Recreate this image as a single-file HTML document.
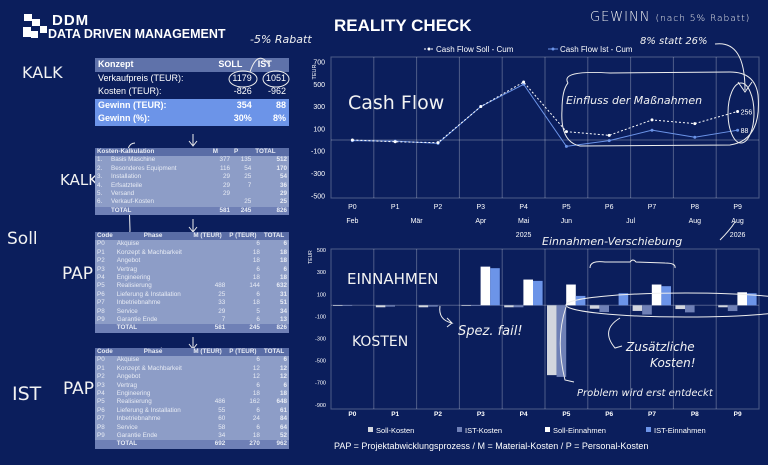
<!DOCTYPE html>
<html><head><meta charset="utf-8">
<style>
*{margin:0;padding:0;box-sizing:border-box}
body{width:768px;height:465px;background:#0b1e5c;overflow:hidden;font-family:"Liberation Sans",sans-serif;color:#fff;position:relative}
.abs{position:absolute}
.hand{font-family:"DejaVu Sans","Liberation Sans",sans-serif;color:#f2f2f2;font-weight:300}
table{border-collapse:collapse;position:absolute;left:95px;width:194px;font-size:6.3px;color:#e8ecf5}
td,th{padding:0 2px;height:8.4px;line-height:8.4px;white-space:nowrap}
.kt th{background:#5a6da6;font-weight:bold;text-align:left}
.kt td{background:#8d9dc7}
.kt tr.tot td{background:#6f80b6;font-weight:bold}
.r{text-align:right}.b{font-weight:bold}
.kalk{left:95px;top:58px;width:194px;font-size:9px;color:#fff}
.kalk td,.kalk th{height:13.5px;line-height:13.5px;padding:0 3px}
.kalk th{background:#5f72aa;text-align:left}
.kalk tr.g td{background:#6c94e8;font-weight:bold}
</style></head><body>

<svg class="abs" style="left:22px;top:13px" width="28" height="28">
<rect x="2" y="1" width="8" height="7" fill="#fff"/><rect x="10" y="6" width="8" height="7" fill="#fff"/><rect x="1" y="14" width="8" height="10" fill="#fff"/><rect x="9" y="18" width="7" height="7" fill="#fff"/><rect x="18" y="13" width="7" height="7" fill="#fff"/>
</svg>
<div class="abs" style="left:52px;top:12px;font-size:15px;font-weight:bold;letter-spacing:1px">DDM</div>
<div class="abs" style="left:48px;top:27px;font-size:12.5px;font-weight:bold">DATA DRIVEN MANAGEMENT</div>

<div class="abs hand" style="left:22px;top:63px;font-size:16px;font-weight:normal">KALK</div>
<div class="abs hand" style="left:250px;top:33px;font-size:11px;font-style:italic">-5% Rabatt</div>

<table class="kalk">
<tr><th>Konzept</th><th class="r">SOLL</th><th class="r">IST</th></tr>
<tr><td>Verkaufpreis (TEUR):</td><td class="r">1179</td><td class="r">1051</td></tr>
<tr><td>Kosten (TEUR):</td><td class="r">-826</td><td class="r">-962</td></tr>
<tr class="g"><td>Gewinn (TEUR):</td><td class="r">354</td><td class="r">88</td></tr>
<tr class="g"><td>Gewinn (%):</td><td class="r">30%</td><td class="r">8%</td></tr>
</table>
<svg class="abs" style="left:0;top:0" width="330" height="465">
<g fill="none" stroke="#eee" stroke-width="1">
<ellipse cx="243" cy="79" rx="14" ry="8"/><ellipse cx="276" cy="79" rx="13" ry="8"/>
<path d="M250 72 Q258 48 270 66"/>
<path d="M135 143 Q125 143 128 165 L130 230 Q130 238 124 240 Q130 242 130 250 L131 305 Q130 318 143 316"/>
<path d="M162 348 Q152 350 153 370 L153 385 Q153 392 148 394 Q153 396 153 405 L152 428 Q152 440 160 440"/>
<path d="M193 134 V145 M189 141 L193 146 L197 141"/>
<path d="M193 219 V231 M189 227 L193 232 L197 227"/>
<path d="M193 337 V348 M189 344 L193 349 L197 344"/>
</g></svg>
<div class="abs hand" style="left:60px;top:171px;font-size:15px;font-weight:normal">KALK</div>
<div class="abs hand" style="left:7px;top:229px;font-size:17px;font-weight:normal">Soll</div>
<div class="abs hand" style="left:62px;top:264px;font-size:17px;font-weight:normal">PAP</div>
<div class="abs hand" style="left:12px;top:383px;font-size:19px;font-weight:normal">IST</div>
<div class="abs hand" style="left:63px;top:379px;font-size:17px;font-weight:normal">PAP</div>

<table class="kt" style="top:148px">
<tr><th colspan="2">Kosten-Kalkulation</th><th class="r">M</th><th class="r">P</th><th class="r">TOTAL</th></tr>
<tr><td style="width:14px">1.</td><td>Basis Maschine</td><td class="r">377</td><td class="r">135</td><td class="r b">512</td></tr>
<tr><td>2.</td><td>Besonderes Equipment</td><td class="r">116</td><td class="r">54</td><td class="r b">170</td></tr>
<tr><td>3.</td><td>Installation</td><td class="r">29</td><td class="r">25</td><td class="r b">54</td></tr>
<tr><td>4.</td><td>Erfsatzteile</td><td class="r">29</td><td class="r">7</td><td class="r b">36</td></tr>
<tr><td>5.</td><td>Versand</td><td class="r">29</td><td class="r"></td><td class="r b">29</td></tr>
<tr><td>6.</td><td>Verkauf-Kosten</td><td class="r"></td><td class="r">25</td><td class="r b">25</td></tr>
<tr class="tot"><td></td><td>TOTAL</td><td class="r">581</td><td class="r">245</td><td class="r">826</td></tr>
</table>

<table class="kt" style="top:232px">
<tr><th style="width:16px">Code</th><th style="text-align:center">Phase</th><th class="r">M (TEUR)</th><th class="r">P (TEUR)</th><th class="r">TOTAL</th></tr>
<tr><td>P0</td><td>Akquise</td><td></td><td class="r">6</td><td class="r b">6</td></tr>
<tr><td>P1</td><td>Konzept &amp; Machbarkeit</td><td></td><td class="r">18</td><td class="r b">18</td></tr>
<tr><td>P2</td><td>Angebot</td><td></td><td class="r">18</td><td class="r b">18</td></tr>
<tr><td>P3</td><td>Vertrag</td><td></td><td class="r">6</td><td class="r b">6</td></tr>
<tr><td>P4</td><td>Engineering</td><td></td><td class="r">18</td><td class="r b">18</td></tr>
<tr><td>P5</td><td>Realisierung</td><td class="r">488</td><td class="r">144</td><td class="r b">632</td></tr>
<tr><td>P6</td><td>Lieferung &amp; Installation</td><td class="r">25</td><td class="r">6</td><td class="r b">31</td></tr>
<tr><td>P7</td><td>Inbetriebnahme</td><td class="r">33</td><td class="r">18</td><td class="r b">51</td></tr>
<tr><td>P8</td><td>Service</td><td class="r">29</td><td class="r">5</td><td class="r b">34</td></tr>
<tr><td>P9</td><td>Garantie Ende</td><td class="r">7</td><td class="r">6</td><td class="r b">13</td></tr>
<tr class="tot"><td></td><td>TOTAL</td><td class="r">581</td><td class="r">245</td><td class="r">826</td></tr>
</table>

<table class="kt" style="top:348px">
<tr><th style="width:16px">Code</th><th style="text-align:center">Phase</th><th class="r">M (TEUR)</th><th class="r">P (TEUR)</th><th class="r">TOTAL</th></tr>
<tr><td>P0</td><td>Akquise</td><td></td><td class="r">6</td><td class="r b">6</td></tr>
<tr><td>P1</td><td>Konzept &amp; Machbarkeit</td><td></td><td class="r">12</td><td class="r b">12</td></tr>
<tr><td>P2</td><td>Angebot</td><td></td><td class="r">12</td><td class="r b">12</td></tr>
<tr><td>P3</td><td>Vertrag</td><td></td><td class="r">6</td><td class="r b">6</td></tr>
<tr><td>P4</td><td>Engineering</td><td></td><td class="r">18</td><td class="r b">18</td></tr>
<tr><td>P5</td><td>Realisierung</td><td class="r">486</td><td class="r">162</td><td class="r b">648</td></tr>
<tr><td>P6</td><td>Lieferung &amp; Installation</td><td class="r">55</td><td class="r">6</td><td class="r b">61</td></tr>
<tr><td>P7</td><td>Inbetriebnahme</td><td class="r">60</td><td class="r">24</td><td class="r b">84</td></tr>
<tr><td>P8</td><td>Service</td><td class="r">58</td><td class="r">6</td><td class="r b">64</td></tr>
<tr><td>P9</td><td>Garantie Ende</td><td class="r">34</td><td class="r">18</td><td class="r b">52</td></tr>
<tr class="tot"><td></td><td>TOTAL</td><td class="r">692</td><td class="r">270</td><td class="r">962</td></tr>
</table>

<div class="abs" style="left:334px;top:16px;font-size:17px;font-weight:bold">REALITY CHECK</div>
<div class="abs hand" style="left:590px;top:10px;font-size:13px;letter-spacing:1px">GEWINN <span style="font-size:9px">(nach 5% Rabatt)</span></div>
<div class="abs hand" style="left:640px;top:36px;font-size:10px;font-style:italic">8% statt 26%</div>

<svg id="charts" class="abs" style="left:0;top:0" width="768" height="465"></svg>
<div class="abs" style="left:334px;top:441px;font-size:9px">PAP = Projektabwicklungsprozess / M = Material-Kosten / P = Personal-Kosten</div>

<script>
const categories=["P0","P1","P2","P3","P4","P5","P6","P7","P8","P9"];
const months=["Feb","","Mär","Apr","Mai","Jun","","Jul","Aug","Aug"];
const cfSoll=[0,-16,-24,300,520,75,42,180,147,256];
const cfIst=[-6,-10,-30,300,500,-57,-6,88,25,88];
const topTicks=[700,500,300,100,-100,-300,-500];
const sollKosten=[-6,-18,-18,-6,-18,-632,-31,-51,-34,-18];
const istKosten=[-6,-12,-12,-6,-18,-648,-61,-84,-64,-52];
const sollEinnahmen=[0,0,0,350,233,188,0,188,0,118];
const istEinnahmen=[0,0,0,336,221,85,109,173,0,109];
const botTicks=[500,300,100,-100,-300,-500,-700,-900];

const NS="http://www.w3.org/2000/svg";
const svg=document.getElementById('charts');
function mk(tag,attrs,parent){const e=document.createElementNS(NS,tag);for(const k in attrs)e.setAttribute(k,attrs[k]);(parent||svg).appendChild(e);return e;}
const X0=331,X1=759,bw=(X1-X0)/categories.length;
const bandX=i=>X0+i*bw;
const cx=i=>X0+(i+0.5)*bw;
const yTop=v=>140-v*(22.3/200);
const yBot=v=>305.3-v*(22.1/200);
const grid="rgba(255,255,255,0.28)";

let fr=mk('rect',{x:X0,y:57,width:X1-X0,height:141,fill:'none',stroke:grid});


for(let i=1;i<categories.length;i++){let l=mk('line',{x1:bandX(i),x2:bandX(i),y1:57,y2:198,stroke:grid});

}
let z=mk('line',{x1:X0,x2:X1,y1:yTop(0),y2:yTop(0),stroke:grid});


topTicks.forEach(t=>{let e=mk('text',{x:325,y:yTop(t)+2.5,'font-size':7,'text-anchor':'end',fill:'#fff'});e.textContent=t;

});
categories.forEach((c,i)=>{let e=mk('text',{x:cx(i),y:209,'font-size':7,'text-anchor':'middle',fill:'#fff'});e.textContent=c;


if(months[i]){let m=mk('text',{x:(i==2||i==7)?bandX(i):cx(i),y:223,'font-size':7,'text-anchor':'middle',fill:'#fff'});m.textContent=months[i];

}});
[[4,"2025"],[9,"2026"]].forEach(([i,t])=>{let e=mk('text',{x:cx(i),y:237,'font-size':7,'text-anchor':'middle',fill:'#fff'});e.textContent=t;

});
let ty=mk('text',{x:316,y:72,'font-size':5.5,fill:'#fff',transform:'rotate(-90 316 72)','text-anchor':'middle'});ty.textContent='TEUR';



function series(vals,color,dash,name){
  let p=mk('polyline',{points:vals.map((v,i)=>cx(i)+','+yTop(v)).join(' '),fill:'none',stroke:color,'stroke-width':1,'stroke-dasharray':dash});
  
  
  vals.forEach((v,i)=>{let c=mk('circle',{cx:cx(i),cy:yTop(v),r:1.5,fill:color});
  
  });
}
series(cfIst,'#6c94e8','','cashflow-ist-line');
series(cfSoll,'#ffffff','2,2','cashflow-soll-line');
let l1=mk('text',{x:cx(9)+3,y:yTop(cfSoll[9])+3,'font-size':7,fill:'#fff'});l1.textContent=cfSoll[9];


let l2=mk('text',{x:cx(9)+3,y:yTop(cfIst[9])+3,'font-size':7,fill:'#fff'});l2.textContent=cfIst[9];


[[424,'#fff','Cash Flow  Soll - Cum','2,1.5'],[548,'#6c94e8','Cash Flow Ist - Cum','']].forEach(([x,c,t,d])=>{
 let g=mk('g',{});
 
 
 mk('line',{x1:x,x2:x+10,y1:49,y2:49,stroke:c,'stroke-dasharray':d},g);mk('circle',{cx:x+5,cy:49,r:1.5,fill:c},g);
 let e=mk('text',{x:x+12,y:52,'font-size':8,fill:'#fff'},g);e.textContent=t;});

let fb=mk('rect',{x:X0,y:249,width:X1-X0,height:160,fill:'none',stroke:grid});


for(let i=1;i<categories.length;i++){let l=mk('line',{x1:bandX(i),x2:bandX(i),y1:249,y2:409,stroke:grid});

}
let zb=mk('line',{x1:X0,x2:X1,y1:yBot(0),y2:yBot(0),stroke:grid});


botTicks.forEach(t=>{let e=mk('text',{x:326,y:yBot(t)+2,'font-size':5.5,'text-anchor':'end',fill:'#fff'});e.textContent=t;

});
categories.forEach((c,i)=>{let e=mk('text',{x:cx(i),y:416,'font-size':6.5,'font-weight':'bold','text-anchor':'middle',fill:'#fff'});e.textContent=c;

});
let tb=mk('text',{x:312,y:257,'font-size':5,fill:'#fff',transform:'rotate(-90 312 257)','text-anchor':'middle'});tb.textContent='TEUR';


const seriesList=[[sollKosten,'#d3d6de','soll-kosten-bar'],[istKosten,'#6f80b6','ist-kosten-bar'],[sollEinnahmen,'#ffffff','soll-einnahmen-bar'],[istEinnahmen,'#6c94e8','ist-einnahmen-bar']];
const barW=9.6;
seriesList.forEach(([vals,col,name],s)=>{vals.forEach((v,i)=>{if(!v)return;
 const x=bandX(i)+2+s*barW, y1=yBot(Math.max(v,0)), y2=yBot(Math.min(v,0));
 let r=mk('rect',{x:x,y:y1,width:barW,height:Math.max(y2-y1,0.5),fill:col});
 
 });});
[[378,'#d3d6de','Soll-Kosten'],[467,'#6f80b6','IST-Kosten'],[555,'#fff','Soll-Einnahmen'],[656,'#6c94e8','IST-Einnahmen']].forEach(([x,c,t])=>{
 let g=mk('g',{});
 
 
 mk('rect',{x:x-10,y:427,width:5,height:5,fill:c},g);
 let e=mk('text',{x:x-2,y:433,'font-size':7.5,fill:'#fff'},g);e.textContent=t;});

const ann=mk('g',{fill:'none',stroke:'#eee','stroke-width':1});


mk('path',{d:'M568 83 Q560 70 610 73 L730 72 Q755 72 758 95 Q762 140 730 145 L580 146 Q560 142 562 110 Q562 90 568 83'},ann);
mk('ellipse',{cx:741,cy:113,rx:13,ry:30},ann);
mk('path',{d:'M715 44 Q745 40 745 90 M738 82 L745 92 L752 82'},ann);
mk('path',{d:'M590 268 Q590 260 605 262 L630 262 Q633 258 636 262 L665 263 Q676 263 675 268'},ann);
mk('ellipse',{cx:686,cy:305,rx:120,ry:12},ann);
mk('path',{d:'M620 318 Q600 330 615 348 L622 346'},ann);
mk('path',{d:'M440 306 Q438 320 452 323 L447 318 M452 323 L447 327'},ann);
mk('path',{d:'M566 307 Q555 340 565 380 L574 382'},ann);
mk('path',{d:'M720 240 Q730 230 735 222'},ann);
function note(x,y,s,t,n,it){let e=mk('text',{x:x,y:y,'font-size':s,fill:'#f2f2f2','font-family':'DejaVu Sans, sans-serif','font-style':it?'italic':'normal'});e.textContent=t;

}
note(348,109,19,'Cash Flow','note-cash-flow');
note(566,104,11,'Einfluss der Maßnahmen','note-einfluss',1);
note(542,245,11,'Einnahmen-Verschiebung','note-einnahmen-verschiebung',1);
note(347,284,15,'EINNAHMEN','note-einnahmen');
note(352,346,14,'KOSTEN','note-kosten');
note(458,335,13,'Spez. fail!','note-spez-fail',1);
note(626,351,12,'Zusätzliche','note-zusaetzliche',1);
note(650,367,12,'Kosten!','note-kosten-2',1);
note(577,396,10,'Problem wird erst entdeckt','note-problem',1);
</script>
</body></html>
